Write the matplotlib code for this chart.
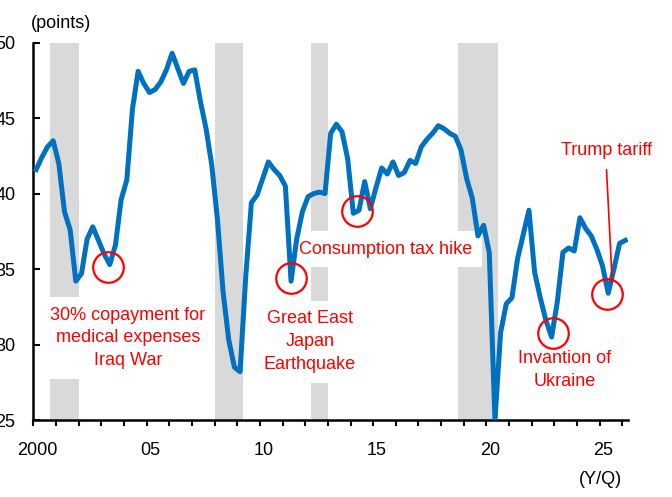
import numpy as np
import matplotlib
matplotlib.use("Agg")
import matplotlib.pyplot as plt
import matplotlib.transforms as mtransforms

plt.rcParams['font.family'] = ['Liberation Sans', 'DejaVu Sans']

# quarterly index, 2000Q1 .. 2026Q1
start_year = 2000
values = [41.6, 42.4, 43.1, 43.5, 42.0, 38.8, 37.6, 34.2, 34.7, 37.0,
          37.8, 36.9, 36.0, 35.3, 36.6, 39.6, 40.9, 45.6, 48.1, 47.3,
          46.7, 46.9, 47.4, 48.2, 49.3, 48.3, 47.3, 48.1, 48.2, 46.1,
          44.3, 41.9, 38.3, 33.5, 30.3, 28.5, 28.2, 34.5, 39.4, 39.9,
          41.0, 42.1, 41.6, 41.2, 40.5, 34.2, 37.0, 38.8, 39.8, 40.0,
          40.1, 40.0, 44.0, 44.6, 44.1, 42.3, 38.7, 38.9, 40.8, 39.0,
          40.4, 41.7, 41.3, 42.1, 41.2, 41.4, 42.2, 42.0, 43.1, 43.6,
          44.0, 44.5, 44.3, 44.0, 43.8, 42.9, 41.0, 39.7, 37.2, 37.9,
          36.1, 25.0, 30.8, 32.7, 33.1, 35.7, 37.3, 38.9, 34.8, 33.1,
          31.6, 30.5, 32.8, 36.1, 36.4, 36.2, 38.4, 37.7, 37.2, 36.3,
          35.2, 33.4, 35.0, 36.7, 36.9]

# recession periods (start, end)
recessions = [(2000.75, 2002.0), (2008.0, 2009.25), (2012.25, 2013.0), (2018.75, 2020.5)]

# events: circle position, label text, label position
event_circles = [(2003.31, 35.17), (2011.37, 34.44), (2014.27, 38.87),
                 (2022.94, 30.79), (2025.34, 33.36)]
event_labels = ["30% copayment for\nmedical expenses\nIraq War",
                "Great East\nJapan\nEarthquake",
                "Consumption tax hike",
                "Invantion of\nUkraine",
                "Trump tariff"]
label_pos = [(2004.17, 30.44), (2012.21, 30.18), (2015.56, 36.33),
             (2023.45, 28.33), (2025.32, 42.89)]

year_ticks = list(range(2000, 2027))
tick_names = {2000: "2000", 2005: "05", 2010: "10", 2015: "15", 2020: "20", 2025: "25"}

x = start_year + (np.arange(len(values)) + 0.5) / 4

fig = plt.figure(figsize=(6.72, 4.97), dpi=100)
ax = fig.add_axes([0.0496, 0.1549, 0.885, 0.7592])

for s, e in recessions:
    ax.axvspan(s, e, color='#D9D9D9', lw=0, zorder=0)

ax.plot(x, values, color='#0070C0', lw=3.6, solid_joinstyle='round', zorder=3)

ex, ey = zip(*event_circles)
ax.plot(ex, ey, 'o', ms=22, mfc='none', mec='#FF0000', mew=1.6, zorder=4)

for txt, (tx, ty) in zip(event_labels, label_pos):
    ax.text(tx, ty, txt, color='#FF0000', fontsize=13, ha='center', va='center',
            linespacing=1.45, zorder=2,
            bbox=dict(boxstyle='square,pad=0.55', fc='white', ec='none'))

# pointer for the last annotation
ax.plot([2025.30, 2025.55], [41.57, 34.17], color='#FF0000', lw=1.2, zorder=4)

ax.set_xlim(2000, 2026.25)
ax.set_ylim(25, 50)
ax.set_yticks([25, 30, 35, 40, 45, 50])
ax.set_xticks(year_ticks)
ax.set_xticklabels([tick_names.get(y, "") for y in year_ticks])

for side in ['top', 'right']:
    ax.spines[side].set_visible(False)
for side in ['left', 'bottom']:
    ax.spines[side].set_linewidth(1.8)

ax.tick_params(axis='y', direction='in', length=5, width=1.5, labelsize=13, pad=13)
ax.tick_params(axis='x', direction='out', length=4, width=1.5, labelsize=13, pad=12)

shift = mtransforms.ScaledTranslation(3.5 / 100, 0, fig.dpi_scale_trans)
for lab in ax.get_xticklabels():
    lab.set_transform(lab.get_transform() + shift)

fig.text(30.7 / 672, 1 - 23 / 497, "(points)", fontsize=13, ha='left', va='center')
fig.text(600 / 672, 1 - 480 / 497, "(Y/Q)", fontsize=13, ha='center', va='center')

fig.savefig("out.png", dpi=100)
